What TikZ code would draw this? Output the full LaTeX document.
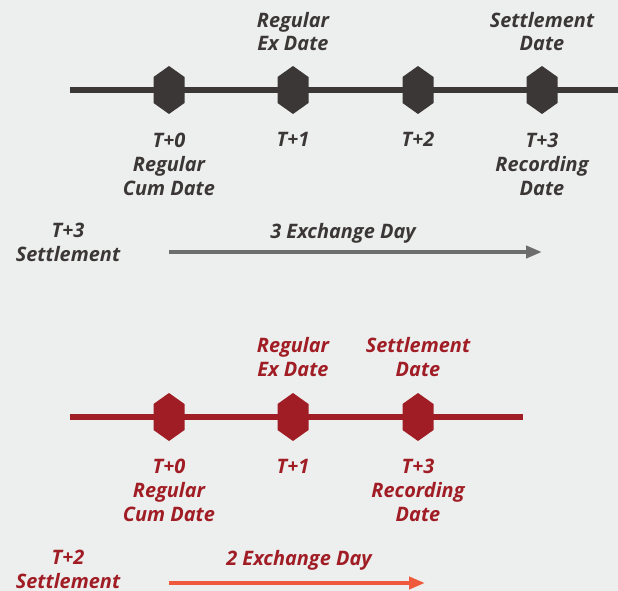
\documentclass[tikz,border=0pt]{standalone}
\usepackage{fontspec}
\setmainfont{Open Sans}
\usetikzlibrary{arrows.meta}

\definecolor{bgcol}{HTML}{EDEFEE}
\definecolor{darkline}{HTML}{3B3736}
\definecolor{redline}{HTML}{A11D25}
\definecolor{grayarrow}{HTML}{6D6D6D}
\definecolor{orangearrow}{HTML}{EF5A3C}

\tikzset{
	datelabel/.style={font=\bfseries\itshape\fontsize{20}{24}\selectfont, align=center, anchor=base, inner sep=0pt},
	timeline/.style={line width=6.5bp, draw=#1},
	dayarrow/.style={line width=4.5bp, draw=#1, -{Triangle[length=16bp,width=12bp]}}
}

% hexagon marker at a named coordinate
\newcommand{\hexmark}[2]{\fill[#2] (#1) ++(0,-24) -- ++(15.5,11) -- ++(0,26) -- ++(-15.5,11) -- ++(-15.5,-11) -- ++(0,-26) -- cycle;}

\begin{document}
\begin{tikzpicture}[x=1bp, y=-1bp]
		% Background
		\fill[bgcol] (0,0) rectangle (618,591);
		\useasboundingbox (0,0) rectangle (618,591);

		% Upper timeline (T+3)
		\coordinate (uL) at (70,90);
		\coordinate (uR) at (618,90);
		\coordinate (u0) at (169,90);
		\coordinate (u1) at (293,90);
		\coordinate (u2) at (418,90);
		\coordinate (u3) at (542,90);
		\draw[timeline=darkline] (uL) -- (uR);
		\hexmark{u0}{darkline}
		\hexmark{u1}{darkline}
		\hexmark{u2}{darkline}
		\hexmark{u3}{darkline}

		% Labels above and below (placed at baseline of last line)
		\node[datelabel, text=darkline] (uex) at (293,51) {Regular\\Ex Date};
		\node[datelabel, text=darkline] (uset) at (542,51) {Settlement\\Date};
		\node[datelabel, text=darkline] (ut0) at (169,195) {T+0\\Regular\\Cum Date};
		\node[datelabel, text=darkline] (ut1) at (293,147) {T+1};
		\node[datelabel, text=darkline] (ut2) at (418,147) {T+2};
		\node[datelabel, text=darkline] (ut3) at (542,195) {T+3\\Recording\\Date};

		% Settlement span
		\node[datelabel, text=darkline] (uname) at (68,261) {T+3\\Settlement};
		\node[datelabel, text=darkline] (udays) at (343,238) {3 Exchange Day};
		\coordinate (ua0) at (169,252);
		\coordinate (ua1) at (542,252);
		\draw[dayarrow=grayarrow] (ua0) -- (ua1);

		% Lower timeline (T+2)
		\coordinate (lL) at (70,417);
		\coordinate (lR) at (523,417);
		\coordinate (l0) at (169,417);
		\coordinate (l1) at (293,417);
		\coordinate (l2) at (418,417);
		\draw[timeline=redline] (lL) -- (lR);
		\hexmark{l0}{redline}
		\hexmark{l1}{redline}
		\hexmark{l2}{redline}

		% Labels above and below (placed at baseline of last line)
		\node[datelabel, text=redline] (lex) at (293,376) {Regular\\Ex Date};
		\node[datelabel, text=redline] (lset) at (418,376) {Settlement\\Date};
		\node[datelabel, text=redline] (lt0) at (169,521) {T+0\\Regular\\Cum Date};
		\node[datelabel, text=redline] (lt1) at (293,473) {T+1};
		\node[datelabel, text=redline] (lt3) at (418,521) {T+3\\Recording\\Date};

		% Settlement span
		\node[datelabel, text=redline] (lname) at (68,588) {T+2\\Settlement};
		\node[datelabel, text=redline] (ldays) at (299,565) {2 Exchange Day};
		\coordinate (la0) at (169,583);
		\coordinate (la1) at (425,583);
		\draw[dayarrow=orangearrow] (la0) -- (la1);
	\end{tikzpicture}
\end{document}
